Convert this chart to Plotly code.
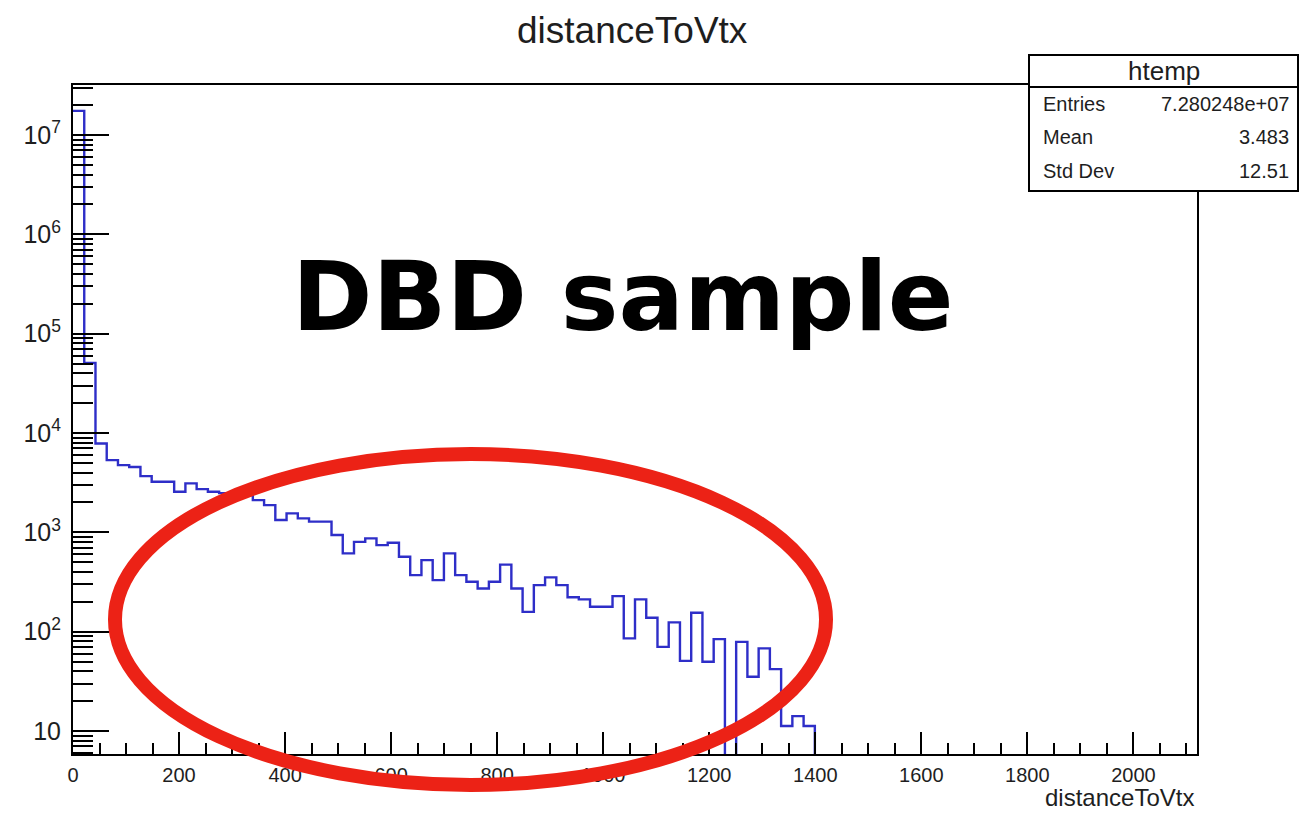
import plotly.graph_objects as go

# ---------------- data ----------------
title_text = "distanceToVtx"
x_title = "distanceToVtx"
hist_name = "htemp"
stats_labels = ["Entries", "Mean", "Std Dev"]
stats_values = ["7.280248e+07", "3.483", "12.51"]
overlay_text = "DBD sample"

bin_low = 0.0
bin_width = 21.2
n_bins = 100
counts = [17500000, 50600, 7850, 5330, 4750, 4540, 3680, 3230, 3230, 2560,
          3110, 2720, 2560, 2480, 2430, 2370, 2110, 1880, 1330, 1550,
          1380, 1280, 1280, 938, 614, 802, 868, 743, 784, 567,
          371, 525, 330, 614, 371, 318, 272, 318, 473, 272,
          158, 294, 352, 294, 222, 211, 178, 178, 228, 85.5,
          211, 138, 70.3, 124, 50.8, 155, 49.7, 84.1, 0, 78.9,
          35.1, 67.8, 41.9, 11.2, 14.1, 11.2] + [0] * 34

x_range = [0, 2120]
y_log_range = [0.768, 7.5035]

# ---------------- geometry ----------------
W, H = 1300, 813
L, R, T, B = 73, 103, 85, 59
PW, PH = W - L - R, H - T - B


def px(xp):
    return (xp - L) / PW


def py(yp):
    return (H - B - yp) / PH


FONT = "Liberation Sans, Arial, Helvetica, sans-serif"
TXT = "#1e1e1e"

edges = [bin_low + i * bin_width for i in range(n_bins + 1)]
floor = 10 ** (y_log_range[0] - 2)
ys = [c if c > 0 else floor for c in counts]
xs = edges[:-1] + [edges[-1]]
ys = ys + [ys[-1]]

fig = go.Figure()
fig.add_trace(go.Scatter(x=xs, y=ys, mode="lines", line=dict(shape="hv", color="#2e2ec8", width=2.4),
                         showlegend=False, hoverinfo="skip"))
fig.add_trace(go.Scatter(x=[None], y=[None], yaxis="y2", showlegend=False, hoverinfo="skip"))

axis_common = dict(showgrid=False, zeroline=False, showline=True, linecolor="black", linewidth=2,
                   mirror=True, ticks="inside", tickcolor="black", tickwidth=2,
                   tickfont=dict(family=FONT, size=20, color=TXT))

fig.update_layout(
    width=W, height=H,
    margin=dict(l=L, r=R, t=T, b=B, pad=0),
    paper_bgcolor="white", plot_bgcolor="white",
    xaxis=dict(range=x_range, tick0=0, dtick=200, ticklen=22, ticklabelstandoff=2,
               minor=dict(tick0=0, dtick=50, ticks="inside", ticklen=11, tickwidth=2, tickcolor="black"),
               **axis_common),
    yaxis=dict(type="log", range=y_log_range, dtick=1, ticklen=36, exponentformat="power",
               ticklabelstandoff=6, **axis_common),
    yaxis2=dict(type="log", range=y_log_range, overlaying="y", side="left", dtick="D1",
                ticks="inside", ticklen=20, tickwidth=2, tickcolor="black", showticklabels=False,
                showgrid=False, zeroline=False, showline=False),
)

anns = []
anns.append(dict(text=title_text, x=px(632), y=py(31), xref="paper", yref="paper", showarrow=False,
                 xanchor="center", yanchor="middle", font=dict(family=FONT, size=37, color=TXT)))
anns.append(dict(text=x_title, x=px(1196), y=py(797), xref="paper", yref="paper", showarrow=False,
                 xanchor="right", yanchor="middle", font=dict(family=FONT, size=24, color=TXT)))

# stats box
fig.add_shape(type="rect", xref="paper", yref="paper", x0=px(1029), x1=px(1298), y0=py(191), y1=py(55),
              line=dict(color="black", width=2), fillcolor="white", layer="above")
fig.add_shape(type="line", xref="paper", yref="paper", x0=px(1029), x1=px(1298), y0=py(87), y1=py(87),
              line=dict(color="black", width=2), layer="above")
anns.append(dict(text=hist_name, x=px(1164), y=py(71), xref="paper", yref="paper", showarrow=False,
                 xanchor="center", yanchor="middle", font=dict(family=FONT, size=26, color=TXT)))
row_y = [104, 137, 171]
for lab, val, ry in zip(stats_labels, stats_values, row_y):
    anns.append(dict(text=lab, x=px(1041), y=py(ry), xref="paper", yref="paper", showarrow=False,
                     xanchor="left", yanchor="middle", font=dict(family=FONT, size=20, color=TXT)))
    anns.append(dict(text=val, x=px(1291), y=py(ry), xref="paper", yref="paper", showarrow=False,
                     xanchor="right", yanchor="middle", font=dict(family=FONT, size=20, color=TXT)))

# big overlay text
anns.append(dict(text="<b>" + overlay_text + "</b>", x=px(622), y=py(296), xref="paper", yref="paper",
                 showarrow=False, xanchor="center", yanchor="middle",
                 font=dict(family="DejaVu Sans", size=97, color="black")))

# red ellipse
fig.add_shape(type="circle", xref="paper", yref="paper", x0=px(115), x1=px(826), y0=py(785), y1=py(454),
              line=dict(color="#ec2216", width=14), layer="above")

fig.update_layout(annotations=anns)
fig.write_html("out.html", config={"displayModeBar": False},
               post_script="document.body.style.margin='0';document.body.style.overflow='hidden';")
